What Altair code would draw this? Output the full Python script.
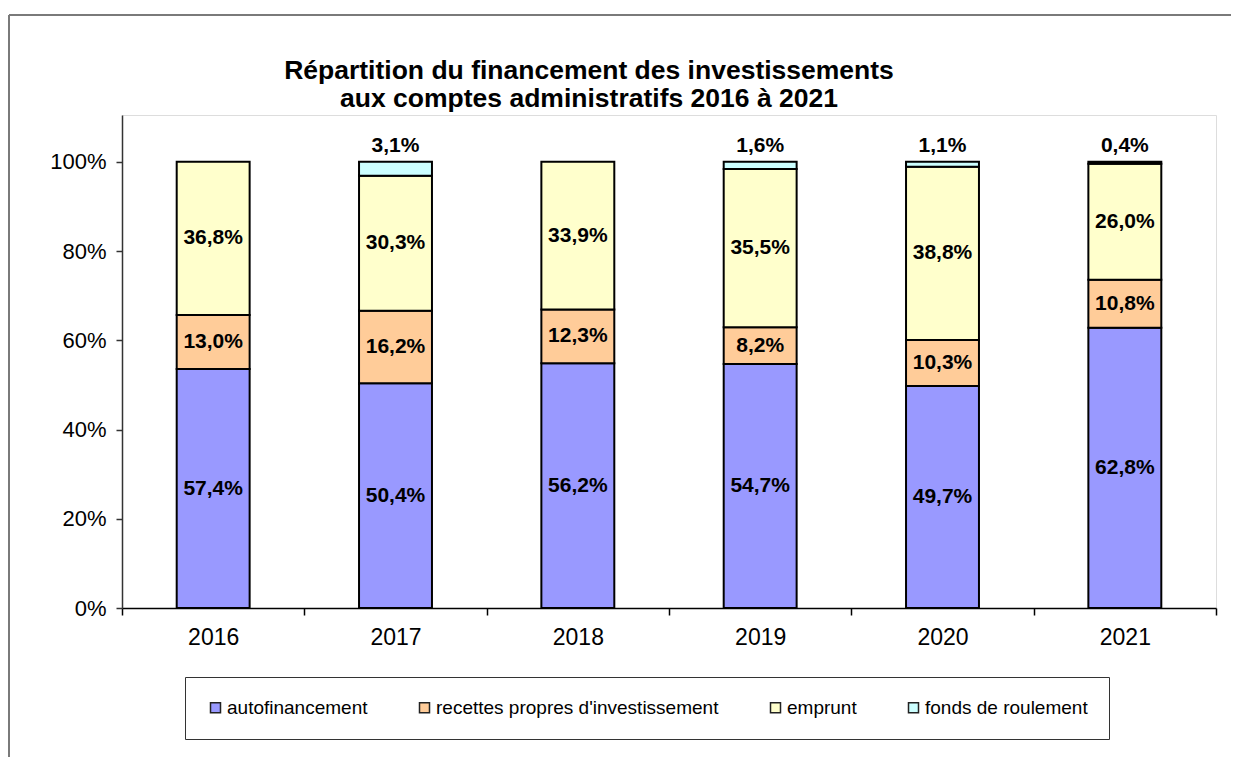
import altair as alt
import pandas as pd

years = ["2016", "2017", "2018", "2019", "2020", "2021"]
categories = ["autofinancement", "recettes propres d'investissement", "emprunt", "fonds de roulement"]
colors = ["#9999FF", "#FFCC99", "#FFFFCC", "#CCFFFF"]

autofinancement = [57.4, 50.4, 56.2, 54.7, 49.7, 62.8]
recettes = [13.0, 16.2, 12.3, 8.2, 10.3, 10.8]
emprunt = [36.8, 30.3, 33.9, 35.5, 38.8, 26.0]
fonds = [0.0, 3.1, 0.0, 1.6, 1.1, 0.4]

series = [autofinancement, recettes, emprunt, fonds]
rows = []
for ci, (cat, vals) in enumerate(zip(categories, series)):
    for y, v in zip(years, vals):
        rows.append({"year": y, "cat": cat, "order": ci, "value": v,
                     "label": f"{v:.1f}".replace(".", ",") + "%"})
df = pd.DataFrame(rows)

FONT = "Liberation Sans"

def stacked(data):
    return (alt.Chart(data)
            .transform_stack(stack="value", groupby=["year"], as_=["y0", "y1"],
                             sort=[alt.SortField("order", order="ascending")],
                             offset="normalize")
            .transform_filter("datum.value > 0"))

yscale = alt.Scale(domain=[0, 1.105], nice=False, zero=True)
xscale = alt.Scale(domain=years, paddingInner=0, paddingOuter=0)

bars = stacked(df).mark_bar(width=alt.RelativeBandSize(0.4), stroke="black", strokeWidth=2).encode(
    x=alt.X("year:N", scale=xscale,
            axis=alt.Axis(title=None, labelAngle=0, tickBand="extent", orient="bottom",
                          domainColor="black", domainWidth=1.5, tickColor="black", tickWidth=1.5,
                          tickSize=7, labelPadding=11, labelFontSize=23, labelFont=FONT,
                          labelColor="black")),
    y=alt.Y("y0:Q", scale=yscale,
            axis=alt.Axis(title=None, values=[0, 0.2, 0.4, 0.6, 0.8, 1.0], format=".0%",
                          grid=False, domainColor="#333333", domainWidth=1.5, tickColor="#333333",
                          tickWidth=1.5, tickSize=6, labelPadding=10, labelFontSize=22,
                          labelFont=FONT, labelColor="black")),
    y2="y1:Q",
    color=alt.Color("cat:N", scale=alt.Scale(domain=categories, range=colors),
                    legend=alt.Legend(title=None, orient="none", legendX=63, legendY=562,
                                      direction="horizontal", symbolType="square",
                                      symbolSize=100, symbolStrokeColor="#222222",
                                      symbolStrokeWidth=1.5, labelFont=FONT, labelFontSize=19,
                                      labelColor="black", labelLimit=500, columnPadding=47,
                                      padding=21, strokeColor="#333333", fillColor="white",
                                      labelOffset=2)),
)

inner = stacked(df).transform_filter("datum.order < 3").transform_calculate(
    ym="(datum.y0 + datum.y1) / 2"
).mark_text(font=FONT, fontSize=21, fontWeight="bold", color="black").encode(
    x=alt.X("year:N", scale=xscale),
    y=alt.Y("ym:Q", scale=yscale),
    text="label:N",
)

top = stacked(df).transform_filter("datum.order == 3").mark_text(
    font=FONT, fontSize=21, fontWeight="bold", color="black", dy=-16
).encode(
    x=alt.X("year:N", scale=xscale),
    y=alt.Y("y1:Q", scale=yscale),
    text="label:N",
)

one = pd.DataFrame({"k": [0]})
frame_left = alt.Chart(one).mark_rule(color="#7a7a7a", strokeWidth=2).encode(
    x=alt.value(-113), y=alt.value(-100), y2=alt.value(700))
frame_top = alt.Chart(one).mark_rule(color="#7a7a7a", strokeWidth=2).encode(
    x=alt.value(-113), x2=alt.value(1300), y=alt.value(-100))

chart = alt.layer(frame_left, frame_top, bars, inner, top).properties(
    width=1094, height=493,
    autosize=alt.AutoSizeParams(type="none"),
    padding={"left": 114, "top": 107, "right": 15, "bottom": 149},
    title=alt.TitleParams(
        ["Répartition du financement des investissements",
         "aux comptes administratifs 2016 à 2021"],
        font=FONT, fontSize=26.5, fontWeight="bold", color="black", anchor="middle",
        dx=-80, dy=106, offset=8, lineHeight=28),
).configure_view(fill="#C0C0C0", stroke="#808080", strokeWidth=1.5
).configure(background="white")

chart.save("out.html", embed_options={"renderer": "svg", "actions": False})
